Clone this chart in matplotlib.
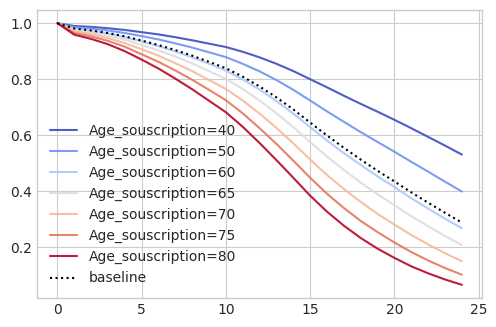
# Survival curves by subscription age (Cox model covariate groups)
import numpy as np
import matplotlib
matplotlib.use("Agg")
import matplotlib.pyplot as plt

plt.style.use("seaborn-v0_8-whitegrid")
plt.rcParams["font.family"] = ["DejaVu Sans"]
plt.rcParams["xtick.color"] = ".15"
plt.rcParams["ytick.color"] = ".15"

# time axis (years)
t = list(range(25))

# survival values
baseline = [1.000, 0.981, 0.974, 0.965, 0.953, 0.938, 0.922, 0.904, 0.884, 0.862,
            0.839, 0.809, 0.774, 0.735, 0.692, 0.645, 0.599, 0.555, 0.513, 0.473,
            0.435, 0.396, 0.359, 0.323, 0.288]
age40 = [1.000, 0.990, 0.987, 0.982, 0.976, 0.968, 0.960, 0.950, 0.939, 0.927,
         0.915, 0.898, 0.878, 0.855, 0.829, 0.800, 0.771, 0.741, 0.712, 0.684,
         0.655, 0.625, 0.594, 0.563, 0.531]
age50 = [1.000, 0.986, 0.981, 0.974, 0.965, 0.954, 0.942, 0.928, 0.913, 0.896,
         0.879, 0.855, 0.828, 0.797, 0.762, 0.724, 0.685, 0.648, 0.611, 0.576,
         0.541, 0.505, 0.470, 0.434, 0.399]
age60 = [1.000, 0.980, 0.973, 0.963, 0.950, 0.935, 0.918, 0.899, 0.878, 0.855,
         0.831, 0.799, 0.763, 0.722, 0.677, 0.629, 0.581, 0.536, 0.494, 0.453,
         0.415, 0.375, 0.338, 0.302, 0.268]
age65 = [1.000, 0.976, 0.967, 0.956, 0.941, 0.922, 0.903, 0.881, 0.856, 0.829,
         0.801, 0.765, 0.724, 0.678, 0.629, 0.575, 0.524, 0.476, 0.431, 0.389,
         0.350, 0.311, 0.275, 0.240, 0.208]
age70 = [1.000, 0.971, 0.961, 0.947, 0.929, 0.907, 0.884, 0.857, 0.829, 0.797,
         0.765, 0.724, 0.677, 0.626, 0.571, 0.513, 0.458, 0.408, 0.362, 0.319,
         0.281, 0.244, 0.210, 0.179, 0.150]
age75 = [1.000, 0.965, 0.953, 0.937, 0.916, 0.889, 0.862, 0.831, 0.798, 0.762,
         0.725, 0.678, 0.625, 0.569, 0.509, 0.448, 0.391, 0.340, 0.294, 0.254,
         0.217, 0.183, 0.153, 0.126, 0.102]
age80 = [1.000, 0.959, 0.944, 0.925, 0.900, 0.870, 0.838, 0.802, 0.764, 0.723,
         0.682, 0.630, 0.572, 0.511, 0.448, 0.384, 0.327, 0.277, 0.233, 0.195,
         0.162, 0.132, 0.107, 0.085, 0.066]

ages = [40, 50, 60, 65, 70, 75, 80]
curves = [age40, age50, age60, age65, age70, age75, age80]

fig = plt.figure(figsize=(4.96, 3.27), dpi=100)
ax = fig.add_axes([0.075, 0.089, 0.897, 0.880])

colors = plt.cm.coolwarm(np.linspace(0, 1, len(ages)))
for age, s, c in zip(ages, curves, colors):
    ax.plot(t, s, color=c, lw=1.5, alpha=0.9, label="Age_souscription=%d" % age)

ax.plot(t, baseline, color="k", ls=":", lw=1.5, label="baseline")

ax.set_xticks([0, 5, 10, 15, 20, 25])
ax.set_yticks([0.2, 0.4, 0.6, 0.8, 1.0])
ax.legend(loc="lower left")

fig.savefig("out.png", dpi=100)
